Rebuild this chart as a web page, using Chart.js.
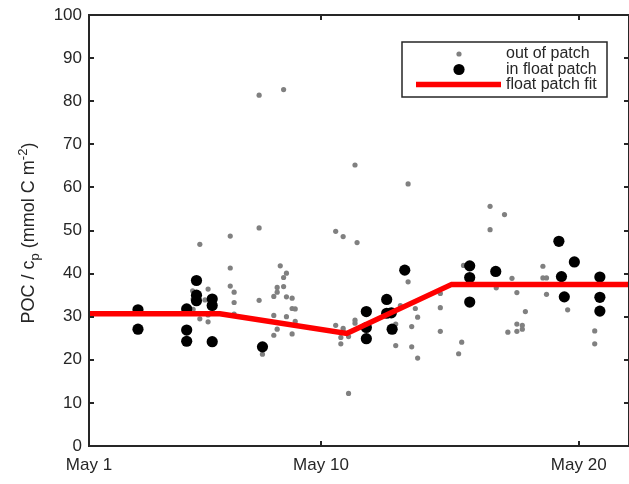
<!DOCTYPE html>
<html>
<head>
<meta charset="utf-8">
<script src="https://cdn.jsdelivr.net/npm/chart.js@4/dist/chart.umd.min.js"></script>
<style>
  html, body { margin: 0; padding: 0; background: #fff; }
  #wrap { width: 629px; height: 484px; position: relative; }
</style>
</head>
<body>
<div id="wrap"><canvas id="c" width="629" height="484"></canvas></div>
<script>
// Day of May (fractional) and depth-integrated POC / c_p for each profile
const outDay = [7.60, 8.55, 11.32, 6.48, 7.60, 10.57, 10.86, 5.30, 11.40, 6.48,
  6.48, 6.63, 6.63, 6.63, 5.02, 5.04, 5.04, 5.30, 5.50, 5.62,
  5.62, 5.62, 7.60, 7.73, 8.17, 8.17, 8.17, 8.30, 8.30, 8.30,
  8.42, 8.55, 8.66, 8.55, 8.66, 8.66, 8.88, 8.88, 9.00, 9.00,
  8.88, 10.57, 10.86, 10.86, 10.77, 10.77, 11.07, 11.32, 11.32, 11.07,
  13.38, 16.56, 17.12, 16.56, 15.53, 13.38, 14.63, 14.63, 14.63, 13.66,
  13.75, 13.52, 13.52, 13.75, 12.90, 12.90, 13.08, 15.46, 15.34, 16.80,
  17.41, 17.60, 17.93, 17.60, 17.81, 17.81, 17.25, 17.60, 18.61, 18.61,
  18.75, 18.75, 19.57, 20.62, 20.62];
const outPoc = [81.4, 82.7, 65.2, 48.7, 50.6, 49.8, 48.6, 46.8, 47.2, 41.3,
  37.1, 35.7, 33.3, 30.6, 36.0, 34.1, 31.7, 29.5, 33.9, 36.4,
  30.4, 28.8, 33.8, 21.3, 34.7, 30.3, 25.7, 36.8, 35.7, 27.1,
  41.8, 39.1, 40.1, 37.0, 34.6, 30.0, 34.3, 31.9, 31.8, 28.9,
  26.0, 28.0, 27.3, 26.7, 25.2, 23.7, 25.4, 29.2, 28.5, 12.2,
  60.8, 55.6, 53.7, 50.2, 41.9, 38.1, 35.4, 32.1, 26.6, 31.9,
  29.9, 27.7, 23.0, 20.4, 28.3, 23.3, 32.6, 24.1, 21.4, 36.7,
  38.9, 35.6, 31.2, 28.3, 28.0, 27.1, 26.4, 26.6, 41.7, 39.0,
  39.0, 35.2, 31.6, 26.7, 23.7];

const inDay = [2.90, 2.90, 4.79, 4.79, 4.79, 5.17, 5.17, 5.17, 5.78, 5.78,
  5.78, 7.73, 11.76, 11.76, 11.76, 12.55, 12.55, 12.73, 12.76, 13.25,
  15.77, 15.77, 15.77, 16.78, 19.23, 19.83, 19.33, 19.44, 20.82, 20.82,
  20.82];
const inPoc = [31.6, 27.1, 31.8, 26.9, 24.3, 38.4, 35.0, 33.7, 34.1, 32.6,
  24.2, 23.0, 31.2, 27.5, 24.9, 34.0, 30.8, 30.9, 27.1, 40.8,
  41.8, 39.1, 33.4, 40.5, 47.5, 42.7, 39.3, 34.6, 39.2, 34.5,
  31.3];

// Piecewise-linear fit to the float patch
const fitDay = [1.0, 6.08, 11.0, 15.07, 21.95];
const fitPoc = [30.7, 30.7, 26.1, 37.5, 37.5];

const seriesNames = ['out of patch', 'in float patch', 'float patch fit'];
const xTickDays = [1, 10, 20];
const xTickLabels = ['May 1', 'May 10', 'May 20'];
const yTicks = [0, 10, 20, 30, 40, 50, 60, 70, 80, 90, 100];

const AX = '#262626';
const FONT = '"Liberation Sans", Arial, Helvetica, sans-serif';

const toXY = (xs, ys) => xs.map((x, i) => ({ x: x, y: ys[i] }));

// Box axes with inward ticks on all four sides
const boxAxes = {
  id: 'boxAxes',
  afterDatasetsDraw(chart) {
    const { ctx, chartArea: a, scales } = chart;
    ctx.save();
    ctx.strokeStyle = AX;
    ctx.lineWidth = 2;
    ctx.beginPath();
    ctx.rect(a.left, a.top, a.right - a.left, a.bottom - a.top);
    ctx.stroke();
    const L = 5;
    ctx.beginPath();
    yTicks.forEach(v => {
      const y = Math.round(scales.y.getPixelForValue(v));
      ctx.moveTo(a.left, y); ctx.lineTo(a.left + L, y);
      ctx.moveTo(a.right, y); ctx.lineTo(a.right - L, y);
    });
    xTickDays.forEach(d => {
      const x = Math.round(scales.x.getPixelForValue(d));
      ctx.moveTo(x, a.bottom); ctx.lineTo(x, a.bottom - L);
      ctx.moveTo(x, a.top); ctx.lineTo(x, a.top + L);
    });
    ctx.stroke();
    ctx.restore();
  }
};

// Y-axis title with subscript and superscript
const yTitle = {
  id: 'yTitle',
  afterDraw(chart) {
    const { ctx } = chart;
    const big = '18px ' + FONT, small = '13px ' + FONT;
    const parts = [
      { t: 'POC / c', f: big, dy: 0 },
      { t: 'p', f: small, dy: 5 },
      { t: ' (mmol C m', f: big, dy: 0 },
      { t: '-2', f: small, dy: -7 },
      { t: ')', f: big, dy: 0 }
    ];
    ctx.save();
    let total = 0;
    parts.forEach(p => { ctx.font = p.f; p.w = ctx.measureText(p.t).width; total += p.w; });
    ctx.translate(34, 233);
    ctx.rotate(-Math.PI / 2);
    ctx.fillStyle = AX;
    ctx.textBaseline = 'alphabetic';
    let x = -total / 2;
    parts.forEach(p => { ctx.font = p.f; ctx.fillText(p.t, x, p.dy); x += p.w; });
    ctx.restore();
  }
};

// Boxed legend in the upper right
const boxLegend = {
  id: 'boxLegend',
  afterDraw(chart) {
    const { ctx } = chart;
    const ds = chart.data.datasets;
    ctx.save();
    ctx.fillStyle = '#fff';
    ctx.fillRect(402, 42, 205, 55);
    ctx.strokeStyle = AX;
    ctx.lineWidth = 1.5;
    ctx.strokeRect(402, 42, 205, 55);
    const rows = [54, 69.5, 84.5];
    // gray dot
    ctx.fillStyle = ds[0].backgroundColor;
    ctx.beginPath(); ctx.arc(459, rows[0], ds[0].pointRadius, 0, Math.PI * 2); ctx.fill();
    // black dot
    ctx.fillStyle = ds[1].backgroundColor;
    ctx.beginPath(); ctx.arc(459, rows[1], ds[1].pointRadius, 0, Math.PI * 2); ctx.fill();
    // red line
    ctx.strokeStyle = ds[2].borderColor;
    ctx.lineWidth = ds[2].borderWidth;
    ctx.beginPath(); ctx.moveTo(416, rows[2]); ctx.lineTo(501, rows[2]); ctx.stroke();
    ctx.fillStyle = AX;
    ctx.font = '16px ' + FONT;
    ctx.textBaseline = 'middle';
    ds.forEach((d, i) => ctx.fillText(d.label, 506, rows[i]));
    ctx.restore();
  }
};

new Chart(document.getElementById('c'), {
  type: 'scatter',
  data: {
    datasets: [
      {
        label: seriesNames[0],
        data: toXY(outDay, outPoc),
        backgroundColor: '#808080',
        borderWidth: 0,
        pointRadius: 2.6,
        order: 3
      },
      {
        label: seriesNames[1],
        data: toXY(inDay, inPoc),
        backgroundColor: '#000000',
        borderWidth: 0,
        pointRadius: 5.6,
        order: 2
      },
      {
        label: seriesNames[2],
        type: 'line',
        data: toXY(fitDay, fitPoc),
        borderColor: '#ff0000',
        borderWidth: 5.5,
        pointRadius: 0,
        fill: false,
        tension: 0,
        order: 1
      }
    ]
  },
  options: {
    responsive: false,
    animation: false,
    devicePixelRatio: 1,
    layout: { autoPadding: false, padding: { top: 15, right: 0, left: 0, bottom: 0 } },
    plugins: { legend: { display: false }, tooltip: { enabled: false } },
    scales: {
      x: {
        type: 'linear',
        min: 1,
        max: 21.95,
        grid: { display: false, drawTicks: false },
        border: { display: false },
        afterBuildTicks(s) { s.ticks = xTickDays.map(v => ({ value: v })); },
        afterFit(s) { s.height = 38; s.paddingLeft = 0; s.paddingRight = 0; },
        ticks: {
          color: AX,
          font: { family: FONT, size: 17 },
          padding: 9,
          maxRotation: 0,
          autoSkip: false,
          callback: (v) => xTickLabels[xTickDays.indexOf(v)]
        }
      },
      y: {
        min: 0,
        max: 100,
        grid: { display: false, drawTicks: false },
        border: { display: false },
        afterBuildTicks(s) { s.ticks = yTicks.map(v => ({ value: v })); },
        afterFit(s) { s.width = 89; s.paddingTop = 0; s.paddingBottom = 0; },
        ticks: {
          color: AX,
          font: { family: FONT, size: 17 },
          padding: 7
        }
      }
    }
  },
  plugins: [boxAxes, yTitle, boxLegend]
});
</script>
</body>
</html>
